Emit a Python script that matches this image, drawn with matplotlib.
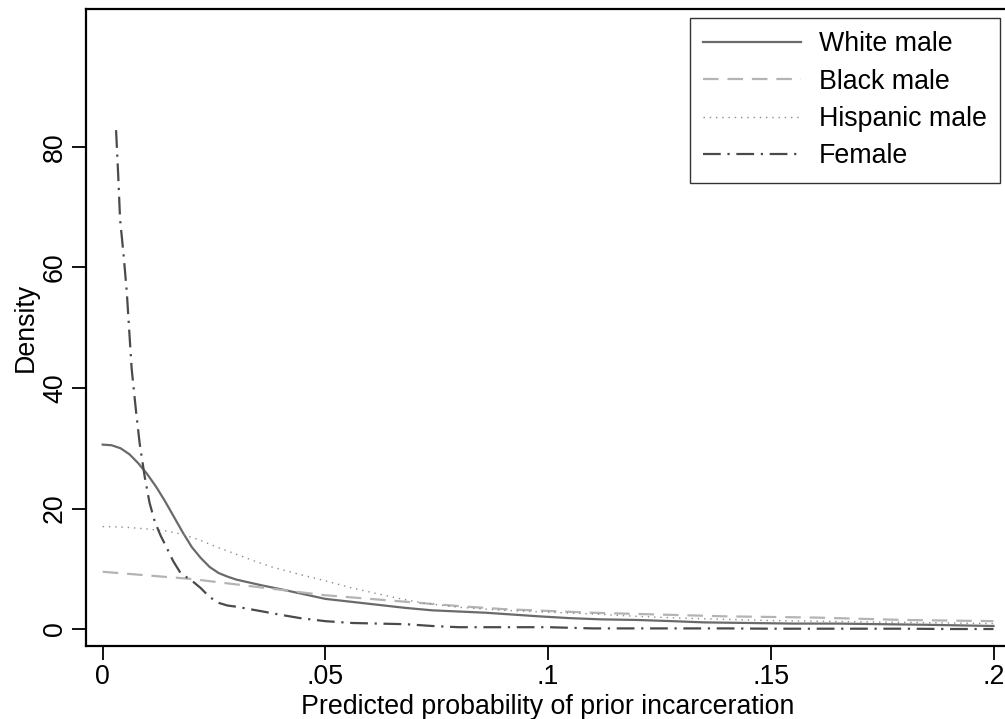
"""Kernel density of predicted probability of prior incarceration, by group."""

import matplotlib
matplotlib.use('Agg')
import matplotlib.pyplot as plt

plt.rcParams['font.family'] = ['Liberation Sans', 'DejaVu Sans']

# values
white_x = [0, .002, .004, .006, .008, .010, .012, .014, .016, .018, .020, .022,
           .024, .026, .028, .030, .033, .036, .040, .045, .050, .056, .062,
           .068, .074, .080, .086, .092, .098, .105, .112, .120, .128, .135,
           .145, .155, .165, .175, .185, .2]
white_y = [30.6, 30.5, 30.0, 29.0, 27.5, 25.7, 23.6, 21.2, 18.6, 16.0, 13.6, 11.8,
           10.3, 9.3, 8.7, 8.2, 7.7, 7.2, 6.6, 5.8, 5.0, 4.5, 4.0,
           3.5, 3.1, 2.9, 2.7, 2.4, 2.1, 1.8, 1.6, 1.5, 1.3, 1.1,
           1.0, 0.9, 0.9, 0.8, 0.7, 0.5]

black_x = [0, .01, .02, .03, .04, .05, .06, .07, .08, .09, .1, .11, .12, .13,
           .14, .15, .16, .17, .18, .19, .2]
black_y = [9.5, 8.9, 8.3, 7.4, 6.5, 5.6, 5.0, 4.4, 3.8, 3.3, 3.0, 2.7, 2.5, 2.3,
           2.1, 2.0, 1.9, 1.7, 1.5, 1.4, 1.3]

hisp_x = [0, .005, .01, .014, .018, .022, .026, .030, .034, .038, .044, .05,
          .056, .062, .067, .072, .08, .09, .1, .11, .12, .13, .14, .15, .16,
          .17, .18, .19, .2]
hisp_y = [17, 16.9, 16.6, 16.3, 15.7, 14.7, 13.5, 12.4, 11.3, 10.3, 9.1, 8.0,
          6.8, 5.8, 5.0, 4.3, 3.6, 3.1, 2.8, 2.5, 2.1, 1.8, 1.6, 1.4, 1.3,
          1.2, 1.1, 1.0, 0.9]

female_x = [.003, .0035, .0039, .0047, .0054, .006, .0065, .0075, .0083, .0094,
            .0105, .0117, .013, .0143, .0158, .0173, .019, .0202, .022, .024,
            .0262, .028, .030, .033, .036, .0396, .0444, .05, .056, .062, .068,
            .074, .08, .09, .1, .11, .12, .13, .14, .15, .16, .17, .18, .19, .2]
female_y = [82.8, 75, 68, 62, 56, 49, 43.2, 36, 30.8, 25.4,
            21, 17.8, 15.5, 13.6, 11.3, 9.5, 8.5, 7.9, 6.8, 5.3,
            4.3, 3.9, 3.7, 3.3, 2.9, 2.4, 1.8, 1.3, 1.0, 0.9, 0.8,
            0.5, 0.3, 0.3, 0.3, 0.1, 0.1, 0.1, 0.1, 0.05, 0.05, 0.05, 0.05, 0, 0]

labels = ['White male', 'Black male', 'Hispanic male', 'Female']
x_ticks = [0, .05, .1, .15, .2]
x_tick_labels = ['0', '.05', '.1', '.15', '.2']
y_ticks = [0, 20, 40, 60, 80]

W, H = 1005, 719
FS = 19.3
fig = plt.figure(figsize=(W / 100, H / 100), dpi=100)
# plot region runs off the right edge, as in the reference crop
ax = fig.add_axes([86 / W, (H - 646) / H, 924 / W, 637 / H])

lw = 1.6
ax.plot(white_x, white_y, color='#6a6a6a', lw=lw, label=labels[0])
ax.plot(black_x, black_y, color='#b4b4b4', lw=lw, dashes=(7, 4), label=labels[1])
ax.plot(hisp_x, hisp_y, color='#8c8c8c', lw=1.0, dashes=(1, 3.5), label=labels[2])
ax.plot(female_x, female_y, color='#4a4a4a', lw=lw, dashes=(8, 3, 1, 3), label=labels[3])

ax.set_xlim(-0.00375, 0.2037)
ax.set_ylim(-2.82, 102.9)
ax.set_xticks(x_ticks)
ax.set_xticklabels(x_tick_labels)
ax.set_yticks(y_ticks)
ax.tick_params(axis='both', direction='out', length=10, width=1.3, labelsize=FS,
               colors='black', pad=3)
for lab in ax.get_yticklabels():
    lab.set_rotation(90)
    lab.set_va('center')
for side in ('left', 'bottom', 'top', 'right'):
    ax.spines[side].set_linewidth(1.6)
ax.spines['right'].set_visible(False)

ax.set_xlabel('Predicted probability of prior incarceration', fontsize=FS, labelpad=3)
ax.set_ylabel('Density', fontsize=FS, labelpad=2)

leg = ax.legend(loc='upper right', bbox_to_anchor=(1000 / W, (H - 18) / H),
                bbox_transform=fig.transFigure, fontsize=FS, frameon=True,
                fancybox=False, edgecolor='black', handlelength=3.65,
                handletextpad=0.67, borderpad=0.5, labelspacing=0.42,
                borderaxespad=0)
leg.get_frame().set_linewidth(1.0)

plt.savefig('out.png', dpi=100)
plt.close()
